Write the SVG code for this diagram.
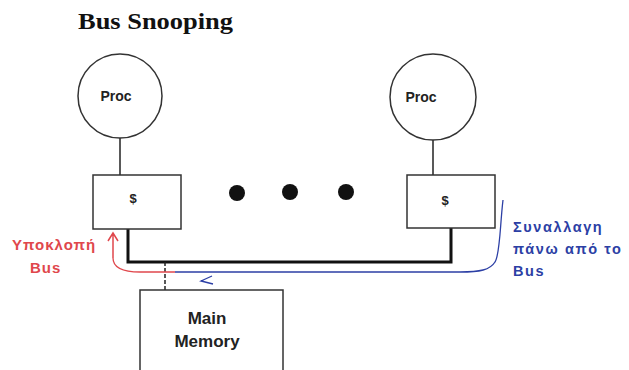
<svg xmlns="http://www.w3.org/2000/svg" width="629" height="370" viewBox="0 0 629 370">
<style>
.bg{fill:#fff}
.shape{fill:#fff;stroke:#333;stroke-width:1.5}
.wire{stroke:#222;stroke-width:1.5;fill:none}
.bus{stroke:#111;stroke-width:3;fill:none}
.lbl{font-family:"Liberation Sans",Arial,sans-serif;font-weight:bold;fill:#222;text-anchor:middle}
.red{font-family:"Liberation Sans",Arial,sans-serif;font-weight:bold;fill:#e0474c;font-size:15px;letter-spacing:1px}
.blue{font-family:"Liberation Sans",Arial,sans-serif;font-weight:bold;fill:#2c3fa5;font-size:14.5px;letter-spacing:1.6px}
</style>
<rect class="bg" x="0" y="0" width="629" height="370"/>
<text x="78" y="29" font-family="Liberation Serif,'Times New Roman',serif" font-weight="bold" font-size="24" textLength="155" lengthAdjust="spacingAndGlyphs" fill="#111">Bus Snooping</text>
<g id="connectors">
<line class="wire" x1="120" y1="138" x2="120" y2="175"/>
<line class="wire" x1="433" y1="140" x2="433" y2="175"/>
<polyline class="bus" points="128,229 128,262 451,262 451,228"/>
<line class="wire" x1="165" y1="262" x2="165" y2="290" stroke-dasharray="4,2"/>
<path d="M113,258 C113,268 122,272 140,272 L175,272" stroke="#e0474c" stroke-width="1.3" fill="none"/>
<path d="M108,241 L113,233 L118,241 M113,233 L113,258" stroke="#e0474c" stroke-width="1.5" fill="none"/>
<path d="M503,200 C500,225 500,255 495,262 C490,270 480,272 460,272 L175,272" stroke="#2c3fa5" stroke-width="1.3" fill="none"/>
<path d="M212,276 L201,281 L213,284" stroke="#2c3fa5" stroke-width="1.3" fill="none"/>
</g>
<g id="proc1">
<circle class="shape" cx="120" cy="96" r="42"/>
<text class="lbl" x="116" y="101" font-size="14">Proc</text>
</g>
<g id="proc2">
<circle class="shape" cx="433" cy="97" r="43"/>
<text class="lbl" x="421" y="102" font-size="14">Proc</text>
</g>
<g id="cache1">
<rect class="shape" x="93" y="175" width="88" height="54"/>
<text class="lbl" x="133" y="203" font-size="13">$</text>
</g>
<g id="cache2">
<rect class="shape" x="407" y="175" width="88" height="53"/>
<text class="lbl" x="445" y="205" font-size="13">$</text>
</g>
<g id="dots" fill="#111">
<circle cx="237" cy="193" r="8"/>
<circle cx="290" cy="192" r="8"/>
<circle cx="346" cy="192" r="8"/>
</g>
<g id="memory">
<rect class="shape" x="140" y="290" width="143" height="90"/>
<text class="lbl" x="207" y="324" font-size="17">Main</text>
<text class="lbl" x="207" y="347" font-size="17">Memory</text>
</g>
<g id="snoop-label">
<text class="red" x="12" y="250">Υποκλοπή</text>
<text class="red" x="30" y="273">Bus</text>
</g>
<g id="transaction-label">
<text class="blue" x="513" y="232">Συναλλαγη</text>
<text class="blue" x="513" y="254">πάνω από το</text>
<text class="blue" x="513" y="276">Bus</text>
</g>
</svg>
